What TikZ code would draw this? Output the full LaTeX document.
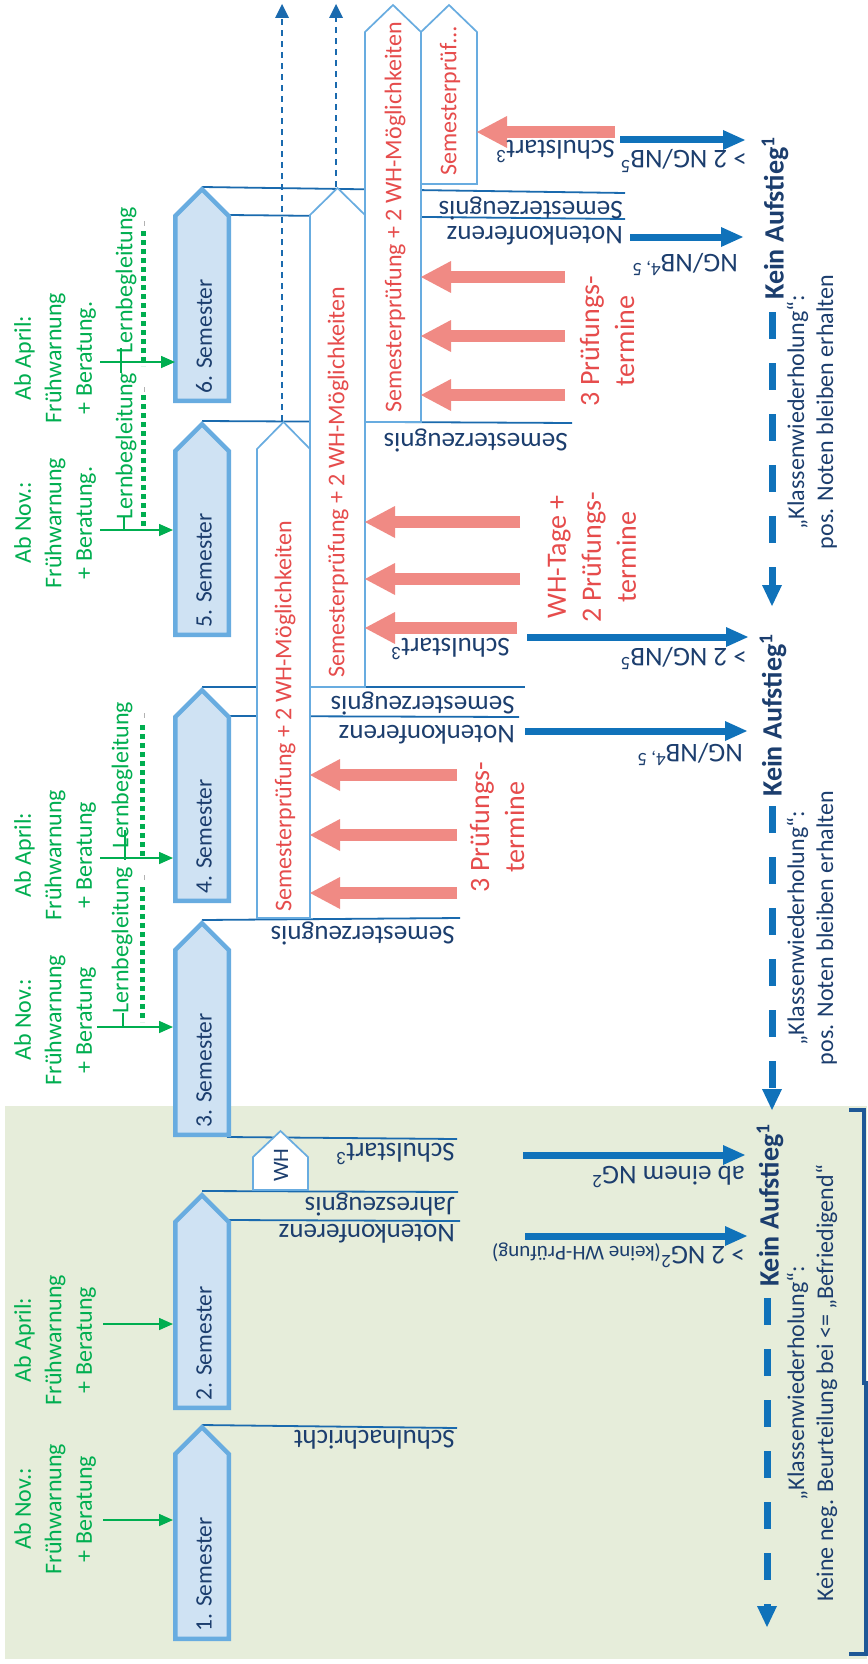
\documentclass[tikz,border=0pt]{standalone}
\usepackage{fontspec}
\setmainfont{Carlito}
\usetikzlibrary{arrows.meta}
\definecolor{semfill}{RGB}{207,226,243}
\definecolor{semedge}{RGB}{104,172,224}
\definecolor{navy}{RGB}{28,62,110}
\definecolor{lineblue}{RGB}{26,106,174}
\definecolor{arrowblue}{RGB}{16,114,186}
\definecolor{pinkred}{RGB}{240,138,132}
\definecolor{redtext}{RGB}{230,76,76}
\definecolor{grn}{RGB}{0,174,80}
\definecolor{bggreen}{RGB}{230,237,218}
\definecolor{bracketblue}{RGB}{30,88,150}
\begin{document}
\begin{tikzpicture}[x=1pt,y=-1pt,
 semester/.style={draw=semedge, fill=semfill, line width=4.5pt, line join=miter},
 pent/.style={draw=semedge, fill=white, line width=1.7pt, line join=miter},
 tline/.style={draw=lineblue, line width=1.8pt},
 lbl/.style={rotate=180, anchor=base west, inner sep=0pt, text=navy, font=\fontsize{27}{32}\selectfont},
 semlbl/.style={rotate=90, anchor=west, inner sep=0pt, text=navy, font=\fontsize{23.5}{28}\selectfont},
 grntxt/.style={rotate=90, align=center, inner sep=0pt, text=grn, font=\fontsize{24}{30.5}\selectfont},
 lern/.style={rotate=90, inner sep=0pt, text=grn, font=\fontsize{24}{29}\selectfont},
 garrow/.style={draw=grn, line width=1.6pt, -{Triangle[width=12pt,length=14pt]}},
 gtick/.style={draw=grn, line width=1.4pt},
 gdots/.style={draw=grn, line width=5pt, dash pattern=on 5pt off 4pt},
 gmark/.style={draw=black!30, line width=0.8pt},
 redarr/.style={draw=pinkred, line width=12pt, -{Triangle[width=32pt,length=30pt,line width=0pt]}},
 bluearr/.style={draw=arrowblue, line width=7pt, -{Triangle[width=20pt,length=22pt,line width=0pt]}},
 kein/.style={rotate=90, anchor=west, inner sep=0pt, text=navy, font=\bfseries\fontsize{28}{34}\selectfont},
 kwdash/.style={draw=arrowblue, line width=7pt, dash pattern=on 27pt off 24pt, -{Triangle[width=20pt,length=21pt,line width=0pt]}},
 redtxt/.style={rotate=90, align=center, inner sep=0pt, text=redtext, font=\fontsize{28}{35}\selectfont},
 penttxt/.style={rotate=90, anchor=west, inner sep=0pt, text=redtext, font=\fontsize{24}{28}\selectfont},
 kwtxt/.style={rotate=90, align=center, inner sep=0pt, text=navy, font=\fontsize{24}{29}\selectfont},
 updash/.style={draw=lineblue, line width=1.6pt, dash pattern=on 6pt off 5pt, -{Triangle[width=14pt,length=14pt,line width=0pt]}},
]
% background
\fill[white] (0,0) rectangle (867,1664);
\useasboundingbox (0,0) rectangle (867,1664);
\fill[bggreen] (5,1106) rectangle (867,1659);

% thin timeline lines
\draw[tline] (202,1425) -- (457,1428);
\draw[tline] (202,1191) -- (458,1192);
\draw[tline] (229,1220) -- (460,1221);
\draw[tline] (227,1137) -- (457,1139);
\draw[tline] (202,920) -- (460,918);
\draw[tline] (202,687) -- (525,687);
\draw[tline] (229,716) -- (519,717);
\draw[tline] (202,421) -- (572,423);
\draw[tline] (202,187) -- (625,193);
\draw[tline] (229,215) -- (625,219);

% exam pentagons
\draw[pent] (257,918) -- (257,449) -- (283.5,422) -- (310,449) -- (310,918) -- cycle;
\draw[pent] (310,687) -- (310,215) -- (337.5,188) -- (365,215) -- (365,687) -- cycle;
\draw[pent] (365,422) -- (365,32) -- (393,5) -- (421,32) -- (421,422) -- cycle;
\draw[pent] (421,184) -- (421,32) -- (449,5) -- (477,32) -- (477,184) -- cycle;
\draw[pent] (253,1190) -- (253,1157) -- (280.5,1131) -- (308,1157) -- (308,1190) -- cycle;
\node[rotate=90, inner sep=0pt, text=navy, font=\fontsize{22}{26}\selectfont] (wh) at (281,1165) {WH};

% semester boxes
\foreach \t/\b in {186/403, 421/637, 687/903, 920/1137, 1192/1410, 1424/1641}
  \draw[semester] (175.25,{\b-2.25}) -- (175.25,{\t+30}) -- (202,{\t+3.2}) -- (228.75,{\t+30}) -- (228.75,{\b-2.25}) -- cycle;
\node[semlbl] (s1) at (204,1632) {1. Semester};
\node[semlbl] (s2) at (204,1401) {2. Semester};
\node[semlbl] (s3) at (204,1128) {3. Semester};
\node[semlbl] (s4) at (204,894) {4. Semester};
\node[semlbl] (s5) at (204,628) {5. Semester};
\node[semlbl] (s6) at (204,394) {6. Semester};

% dashed continuation arrows
\coordinate (p1tip) at (282,421);
\coordinate (p1top) at (282,4);
\coordinate (p2tip) at (336,187);
\coordinate (p2top) at (336,4);
\draw[updash] (p1tip) -- (p1top);
\draw[updash] (p2tip) -- (p2top);

% green notes
\node[grntxt] (n1) at (55,1509) {Ab Nov.:\\Frühwarnung\\+ Beratung};
\node[grntxt] (n2) at (55,1340) {Ab April:\\Frühwarnung\\+ Beratung};
\node[grntxt] (n3) at (55,1020) {Ab Nov.:\\Frühwarnung\\+ Beratung};
\node[grntxt] (n4) at (55,855) {Ab April:\\Frühwarnung\\+ Beratung};
\node[grntxt] (n5) at (55,523) {Ab Nov.:\\Frühwarnung\\+ Beratung.};
\node[grntxt] (n6) at (55,358) {Ab April:\\Frühwarnung\\+ Beratung.};
\draw[garrow] (103,1520) -- (173,1520);
\draw[garrow] (103,1324) -- (173,1324);
\draw[garrow] (97,1027) -- (173,1027);
\draw[garrow] (100,858) -- (173,858);
\draw[garrow] (100,530) -- (173,530);
\draw[garrow] (100,362) -- (175,362);
\draw[gtick] (121,348) -- (121,373);
\draw[gtick] (124,517) -- (124,531);
\draw[gtick] (125,830) -- (125,860);
\draw[gtick] (123,1013) -- (123,1028);
\draw[gdots] (143,231) -- (143,366);
\draw[gdots] (143,395) -- (143,530);
\draw[gdots] (142,725) -- (142,858);
\draw[gdots] (142,887) -- (142,1022);
\draw[gmark] (144,221) -- (144,226);
\draw[gmark] (144,387) -- (144,392);
\draw[gmark] (144,713) -- (144,718);
\draw[gmark] (144,875) -- (144,880);
\node[lern] (l6) at (126,280) {Lernbegleitung};
\node[lern] (l5) at (126,446) {Lernbegleitung};
\node[lern] (l4) at (122,775) {Lernbegleitung};
\node[lern] (l3) at (122,940) {Lernbegleitung};

% red exam arrows
\foreach \y in {775,835,893} \draw[redarr] (457,\y) -- (310,\y);
\foreach \y in {522,579} \draw[redarr] (520,\y) -- (365,\y);
\draw[redarr] (517,628) -- (365,628);
\foreach \y in {277,336,395} \draw[redarr] (565,\y) -- (421,\y);
\draw[redarr] (615,132) -- (477,132);

% blue decision arrows
\draw[bluearr] (620,140) -- (745,140);
\draw[bluearr] (630,237) -- (743,237);
\draw[bluearr] (527,637) -- (748,637);
\draw[bluearr] (525,731) -- (747,731);
\draw[bluearr] (523,1155) -- (745,1155);
\draw[bluearr] (525,1236) -- (747,1236);

% upside-down labels
\node[lbl] (z6) at (623,201) {Semesterzeugnis};
\node[lbl] (k6) at (623,226) {Notenkonferenz};
\node[lbl] (ss7) at (615,141) {Schulstart\textsuperscript{3}};
\node[lbl] (c1) at (747,151) {> 2 NG/NB\textsuperscript{5}};
\node[lbl] (c2) at (738,254) {NG/NB\textsuperscript{4, 5}};
\node[lbl] (z5) at (568,433) {Semesterzeugnis};
\node[lbl] (ss5) at (510,638) {Schulstart\textsuperscript{3}};
\node[lbl] (c3) at (747,648) {> 2 NG/NB\textsuperscript{5}};
\node[lbl] (z4) at (515,696) {Semesterzeugnis};
\node[lbl] (k4) at (515,725) {Notenkonferenz};
\node[lbl] (c4) at (743,744) {NG/NB\textsuperscript{4, 5}};
\node[lbl] (z3) at (455,926) {Semesterzeugnis};
\node[lbl] (ss3) at (455,1143) {Schulstart\textsuperscript{3}};
\node[lbl] (c5) at (745,1166) {ab einem NG\textsuperscript{2}};
\node[lbl] (j2) at (455,1197) {Jahreszeugnis};
\node[lbl] (k2) at (455,1224) {Notenkonferenz};
\node[lbl] (c6) at (745,1246) {> 2 NG\textsuperscript{2}{\fontsize{21}{24}\selectfont(keine WH-Prüfung)}};
\node[lbl] (sn) at (455,1430) {Schulnachricht};

% red texts
\node[redtxt] (r1) at (497,827) {3 Prüfungs-\\termine};
\node[redtxt] (r2) at (592,557) {WH-Tage +\\2 Prüfungs-\\termine};
\node[redtxt] (r3) at (607,341) {3 Prüfungs-\\termine};
\node[penttxt] (pt1) at (285,912) {Semesterprüfung + 2 WH-Möglichkeiten};
\node[penttxt] (pt2) at (338,678) {Semesterprüfung + 2 WH-Möglichkeiten};
\node[penttxt] (pt3) at (395,413) {Semesterprüfung + 2 WH-Möglichkeiten};
\node[penttxt] (pt4) at (450,176) {Semesterprüf…};

% Kein Aufstieg
\node[kein] (ka1) at (775,300) {Kein Aufstieg\textsuperscript{1}};
\node[kein] (ka2) at (773,797) {Kein Aufstieg\textsuperscript{1}};
\node[kein] (ka3) at (770,1287) {Kein Aufstieg\textsuperscript{1}};
\coordinate (d1s) at (772,312); \coordinate (d1e) at (772,606);
\coordinate (d2s) at (772,806); \coordinate (d2e) at (772,1110);
\coordinate (d3s) at (767,1298); \coordinate (d3e) at (767,1627);
\draw[kwdash] (d1s) -- (d1e);
\draw[kwdash] (d2s) -- (d2e);
\draw[kwdash] (d3s) -- (d3e);
\node[kwtxt] (kw1) at (812,412) {„Klassenwiederholung“:\\pos. Noten bleiben erhalten};
\node[kwtxt] (kw2) at (812,928) {„Klassenwiederholung“:\\pos. Noten bleiben erhalten};
\node[kwtxt] (kw3) at (812,1383) {„Klassenwiederholung“:\\Keine neg. Beurteilung bei <= „Befriedigend“};

% bracket
\draw[bracketblue, line width=3.2pt] (849,1110) -- (864,1110) -- (864,1383) -- (866,1383) -- (866,1654) -- (849,1654);
\end{tikzpicture}
\end{document}
